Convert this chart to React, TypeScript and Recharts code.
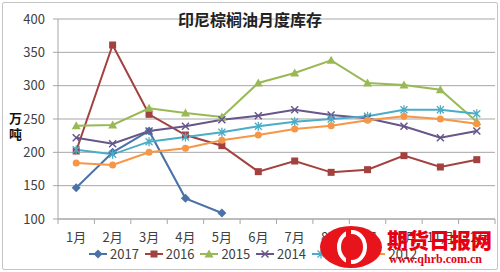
import React from "react";
import { LineChart, Line, XAxis, YAxis, CartesianGrid } from "recharts";

// 印尼棕榈油月度库存 (万吨)
const months = ["1月", "2月", "3月", "4月", "5月", "6月", "7月", "8月", "9月", "10月", "11月", "12月"];
const y2017 = [147, 200, 232, 131, 109];
const y2016 = [202, 361, 257, 226, 210, 171, 187, 170, 174, 195, 178, 189];
const y2015 = [240, 241, 266, 259, 253, 304, 319, 338, 304, 301, 294, 246];
const y2014 = [222, 213, 232, 239, 249, 255, 264, 256, 251, 239, 222, 232];
const y2013 = [204, 197, 216, 223, 230, 239, 246, 250, 254, 264, 264, 258];
const y2012 = [184, 181, 200, 206, 218, 226, 235, 240, 248, 254, 250, 243];
const yTicks = [100, 150, 200, 250, 300, 350, 400];

type Shape = "diamond" | "square" | "triangle" | "x" | "star" | "circle";

const SERIES: { key: string; name: string; values: number[]; color: string; shape: Shape }[] = [
  { key: "s2017", name: "2017", values: y2017, color: "#4A72A8", shape: "diamond" },
  { key: "s2016", name: "2016", values: y2016, color: "#A3413F", shape: "square" },
  { key: "s2015", name: "2015", values: y2015, color: "#98B954", shape: "triangle" },
  { key: "s2014", name: "2014", values: y2014, color: "#66568A", shape: "x" },
  { key: "s2013", name: "2013", values: y2013, color: "#4BACC6", shape: "star" },
  { key: "s2012", name: "2012", values: y2012, color: "#F79646", shape: "circle" },
];

const data = months.map((m, i) => {
  const row: Record<string, string | number | null> = { month: m };
  SERIES.forEach((s) => {
    row[s.key] = s.values[i] ?? null;
  });
  return row;
});

const W = 500;
const H = 272;
const MARGIN = { top: 19, right: 5, bottom: 23, left: 0 };
const Y_WIDTH = 58;
const BAND = (W - MARGIN.left - MARGIN.right - Y_WIDTH) / months.length;
const AXIS = "#A6A6A6";
const TEXT = "#404040";
const FONT = '"Noto Sans CJK SC", "Noto Sans", sans-serif';

function Marker({ cx, cy, shape, color }: { cx?: number; cy?: number; shape: Shape; color: string }) {
  if (cx == null || cy == null) return null;
  switch (shape) {
    case "diamond":
      return <path d={`M${cx},${cy - 4.5}L${cx + 4.5},${cy}L${cx},${cy + 4.5}L${cx - 4.5},${cy}Z`} fill={color} />;
    case "square":
      return <rect x={cx - 3.5} y={cy - 3.5} width={7} height={7} fill={color} />;
    case "triangle":
      return <path d={`M${cx},${cy - 4.5}L${cx + 4.5},${cy + 3.5}L${cx - 4.5},${cy + 3.5}Z`} fill={color} />;
    case "x":
      return (
        <path
          d={`M${cx - 3.5},${cy - 3.5}L${cx + 3.5},${cy + 3.5}M${cx + 3.5},${cy - 3.5}L${cx - 3.5},${cy + 3.5}`}
          stroke={color}
          strokeWidth={1.5}
        />
      );
    case "star":
      return (
        <path
          d={`M${cx - 3.5},${cy - 3.5}L${cx + 3.5},${cy + 3.5}M${cx + 3.5},${cy - 3.5}L${cx - 3.5},${cy + 3.5}M${cx},${cy - 4.5}L${cx},${cy + 4.5}`}
          stroke={color}
          strokeWidth={1.3}
        />
      );
    default:
      return <circle cx={cx} cy={cy} r={3.5} fill={color} />;
  }
}

function MonthTick(props: any) {
  const { x, y, payload, index } = props;
  const half = BAND / 2;
  return (
    <g>
      <line x1={x - half} x2={x - half} y1={y} y2={y + 5} stroke={AXIS} />
      {index === months.length - 1 && <line x1={x + half} x2={x + half} y1={y} y2={y + 5} stroke={AXIS} />}
      <text x={x} y={y + 23} textAnchor="middle" fontSize={13} fill={TEXT} fontFamily={FONT}>
        {payload.value}
      </text>
    </g>
  );
}

function LegendRow() {
  return (
    <div
      style={{
        position: "absolute",
        left: 89,
        top: 245,
        display: "flex",
        fontFamily: FONT,
        fontSize: 13,
        color: TEXT,
        lineHeight: "18px",
      }}
    >
      {SERIES.map((s) => (
        <div key={s.key} style={{ display: "flex", alignItems: "center", width: 55.7 }}>
          <svg width={18} height={10} style={{ marginRight: 3 }}>
            <line x1={0} x2={18} y1={5} y2={5} stroke={s.color} strokeWidth={2} />
            <Marker cx={9} cy={5} shape={s.shape} color={s.color} />
          </svg>
          <span>{s.name}</span>
        </div>
      ))}
    </div>
  );
}

function Watermark() {
  return (
    <>
      <div
        style={{
          position: "absolute",
          left: 320,
          top: 226,
          width: 62,
          height: 42,
          borderRadius: "50%",
          background: "#E8141B",
        }}
      >
        <div
          style={{
            position: "absolute",
            left: 17,
            top: 4,
            width: 22,
            height: 26,
            borderRadius: "50%",
            border: "4px solid #fff",
          }}
        />
        <div style={{ position: "absolute", left: 26, top: 2, width: 5, height: 38, background: "#E8141B" }} />
      </div>
      <div
        style={{
          position: "absolute",
          left: 387,
          top: 226,
          fontFamily: FONT,
          fontWeight: 900,
          fontSize: 21,
          color: "#E60012",
          lineHeight: "26px",
          whiteSpace: "nowrap",
        }}
      >
        期货日报网
      </div>
      <div
        style={{
          position: "absolute",
          left: 389,
          top: 252,
          fontFamily: '"Liberation Serif", "DejaVu Serif", serif',
          fontWeight: 700,
          fontSize: 12,
          color: "#E60012",
          lineHeight: "14px",
          whiteSpace: "nowrap",
        }}
      >
        www.qhrb.com.cn
      </div>
    </>
  );
}

export default function App() {
  return (
    <div style={{ position: "fixed", left: 0, top: 0, width: W, height: H, background: "#fff", overflow: "hidden" }}>
      <div
        style={{
          position: "absolute",
          left: 2,
          top: 2,
          width: 494,
          height: 266,
          border: "1px solid #C4C4C4",
          borderRadius: 2,
        }}
      />
      <LineChart width={W} height={H} data={data} margin={MARGIN}>
        <CartesianGrid vertical={false} stroke={AXIS} />
        <XAxis
          dataKey="month"
          interval={0}
          padding={{ left: BAND / 2, right: BAND / 2 }}
          tickLine={false}
          tickSize={0}
          tickMargin={0}
          height={30}
          axisLine={{ stroke: AXIS }}
          tick={<MonthTick />}
        />
        <YAxis
          width={Y_WIDTH}
          domain={[100, 400]}
          ticks={yTicks}
          interval={0}
          tickSize={5}
          tickMargin={8}
          axisLine={{ stroke: AXIS }}
          tickLine={{ stroke: AXIS }}
          tick={{ fontSize: 13, fill: TEXT, fontFamily: FONT }}
        />
        {SERIES.map((s) => (
          <Line
            key={s.key}
            dataKey={s.key}
            name={s.name}
            type="linear"
            stroke={s.color}
            strokeWidth={2}
            isAnimationActive={false}
            connectNulls={false}
            dot={(p: any) => <Marker key={`${s.key}-${p.index}`} cx={p.cx} cy={p.cy} shape={s.shape} color={s.color} />}
            activeDot={false}
          />
        ))}
      </LineChart>
      <div
        style={{
          position: "absolute",
          left: 0,
          top: 8,
          width: W,
          textAlign: "center",
          fontFamily: FONT,
          fontWeight: 700,
          fontSize: 16,
          lineHeight: "22px",
          color: "#222",
        }}
      >
        印尼棕榈油月度库存
      </div>
      <div
        style={{
          position: "absolute",
          left: 9,
          top: 110,
          width: 14,
          fontFamily: FONT,
          fontWeight: 700,
          fontSize: 13,
          lineHeight: "16px",
          color: "#111",
        }}
      >
        万<br />吨
      </div>
      <LegendRow />
      <Watermark />
    </div>
  );
}
